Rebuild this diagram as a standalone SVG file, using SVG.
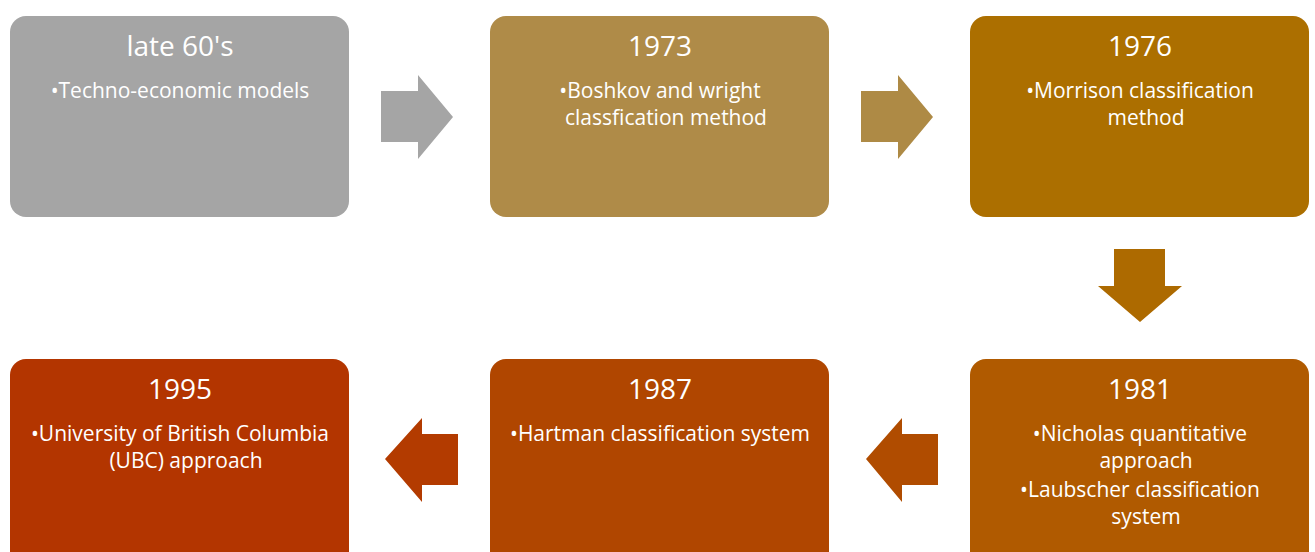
<svg xmlns="http://www.w3.org/2000/svg" width="1315" height="552" viewBox="0 0 1315 552">
<style>
.t{font-family:"Open Sans","Liberation Sans",sans-serif;fill:#ffffff;text-anchor:middle}
.h{font-size:28px}
.b{font-size:21px}
</style>
<rect width="1315" height="552" fill="#ffffff"/>
<g id="connectors">
<polygon points="381,91 418,91 418,75 453,117 418,159 418,142 381,142" fill="#A5A5A5"/>
<polygon points="861,91 898,91 898,75 933,117 898,159 898,142 861,142" fill="#AE8A45"/>
<polygon points="1114,249 1165,249 1165,286 1182,286 1140,322 1098,286 1114,286" fill="#AD6A00"/>
<polygon points="938,434 902,434 902,418 866,459 902,502 902,485 938,485" fill="#B04C00"/>
<polygon points="458,434 422,434 422,418 385,459 422,502 422,485 458,485" fill="#B33B00"/>
</g>
<g id="n1">
<rect x="10" y="16" width="339" height="201" rx="16" fill="#A5A5A5"/>
<text class="t h" x="180" y="56">late 60's</text>
<text class="t b" x="180" y="98">•Techno-economic models</text>
</g>
<g id="n2">
<rect x="490" y="16" width="339" height="201" rx="16" fill="#AF8B48"/>
<text class="t h" x="660" y="56">1973</text>
<text class="t b" x="660" y="98">•Boshkov and wright</text>
<text class="t b" x="666" y="125">classfication method</text>
</g>
<g id="n3">
<rect x="970" y="16" width="339" height="201" rx="16" fill="#AC6F00"/>
<text class="t h" x="1140" y="56">1976</text>
<text class="t b" x="1140" y="98">•Morrison classification</text>
<text class="t b" x="1146" y="125">method</text>
</g>
<g id="n4">
<rect x="970" y="359" width="339" height="220" rx="16" fill="#B05A00"/>
<text class="t h" x="1140" y="399">1981</text>
<text class="t b" x="1140" y="441">•Nicholas quantitative</text>
<text class="t b" x="1146" y="468">approach</text>
<text class="t b" x="1140" y="497">•Laubscher classification</text>
<text class="t b" x="1146" y="524">system</text>
</g>
<g id="n5">
<rect x="490" y="359" width="339" height="220" rx="16" fill="#B04600"/>
<text class="t h" x="660" y="399">1987</text>
<text class="t b" x="660" y="441">•Hartman classification system</text>
</g>
<g id="n6">
<rect x="10" y="359" width="339" height="220" rx="16" fill="#B33500"/>
<text class="t h" x="180" y="399">1995</text>
<text class="t b" x="180" y="441">•University of British Columbia</text>
<text class="t b" x="186" y="468">(UBC) approach</text>
</g>
</svg>
